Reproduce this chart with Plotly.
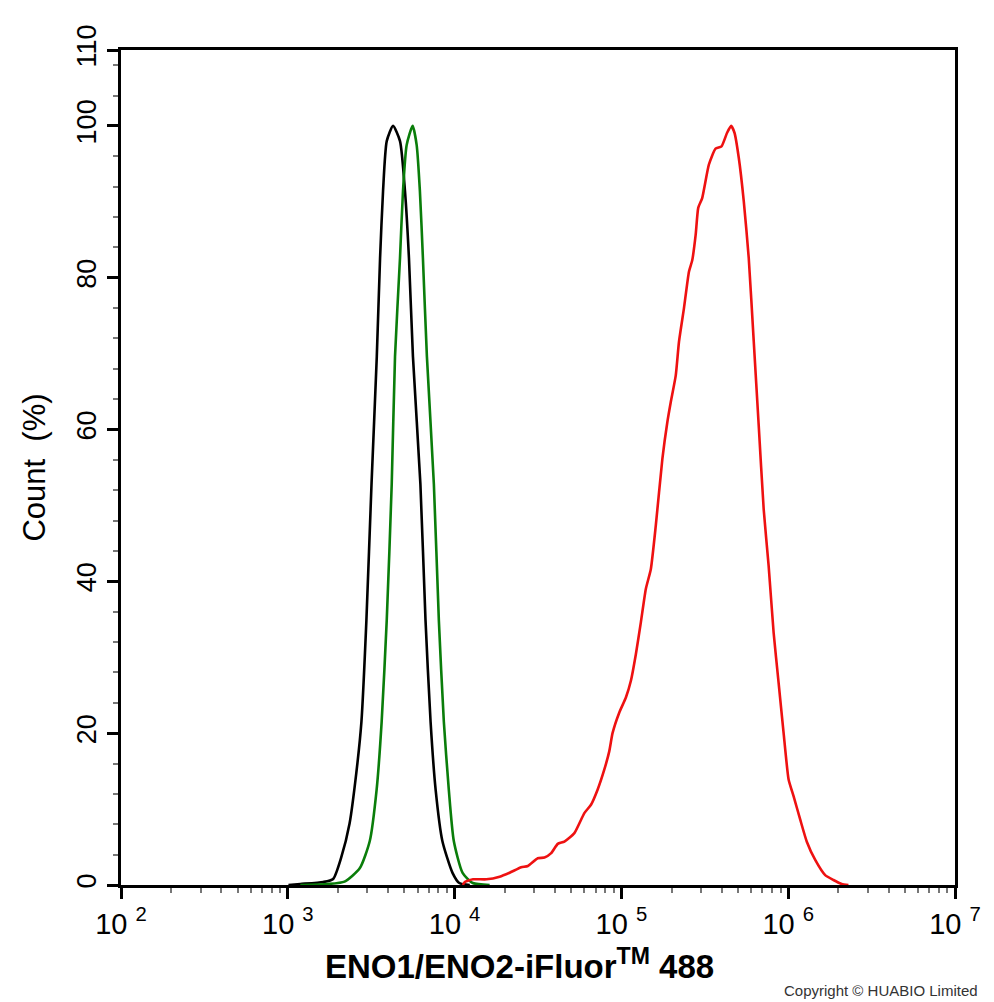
import plotly.graph_objects as go

# isotype control (black)
ctrl_x = [1009, 1189, 1632, 1871, 2089, 2346, 2576, 2763, 2960, 3176, 3416, 3574, 3724, 3919, 4276,
          4706, 5041, 5325, 5627, 6237, 6693, 7178, 7700, 8445, 9716, 10670, 12330]
ctrl_y = [0, 0.13, 0.4, 0.8, 3.6, 8.1, 14.8, 21.5, 34.9, 52.8, 69.6, 82.6, 91.4, 98.0, 100,
          98.0, 91.4, 82.6, 69.6, 52.8, 34.9, 21.5, 12.5, 5.8, 1.6, 0.26, 0]

# unstained / blank (green)
blank_x = [1189, 1734, 2188, 2699, 3101, 3406, 3653, 3919, 4198, 4393, 4706, 4904, 5160, 5604,
           5921, 6194, 6457, 6823, 7511, 8045, 8620, 9236, 9890, 11166, 12845, 16220]
blank_y = [0, 0.13, 0.45, 2.2, 5.8, 12.5, 21.5, 34.9, 52.8, 69.6, 82.6, 91.4, 97.5, 100,
           97.5, 91.4, 82.6, 69.6, 52.8, 34.9, 21.5, 12.5, 5.8, 1.6, 0.26, 0]

# ENO1/ENO2 stained (red)
stain_x = [11200, 11510, 12895, 15510, 18620, 21370, 25100, 27480, 31540, 34580, 37920, 41530, 45530,
           52240, 59950, 65730, 71980, 78940, 84560, 88490, 97030, 106400, 114000, 122100, 130800,
           140100, 150100, 160700, 176000, 188600, 197600, 211700, 221500, 237200, 254100, 265900,
           278600, 288800, 305100, 334500, 366800, 398500, 430300, 454700, 476400, 505400, 541500,
           580000, 621500, 665800, 712900, 763600, 818100, 876400, 938700, 1005500, 1077000, 1181000,
           1293000, 1452000, 1666000, 1867000, 2093000, 2296000]
stain_y = [0, 0.4, 0.75, 0.75, 1.1, 1.62, 2.34, 2.51, 3.53, 3.61, 4.19, 5.42, 5.72,
           6.83, 9.47, 10.57, 12.55, 15.19, 17.6, 20.0, 22.7, 24.7, 26.9, 30.4, 34.6,
           39.0, 41.6, 47.3, 56.1, 61.0, 63.6, 67.1, 71.6, 76.0, 80.8, 82.3,
           85.6, 89.2, 90.5, 94.9, 97.0, 97.3, 99.1, 100, 99.1, 95.8, 90.1,
           82.6, 71.6, 60.5, 49.5, 42.0, 33.2, 26.6, 20.0, 13.9, 11.7, 8.6,
           5.7, 3.3, 1.3, 0.66, 0.13, 0]

x_tickvals = [1e2, 1e3, 1e4, 1e5, 1e6, 1e7]
x_ticktext = ["10 <sup>%d</sup>" % p for p in range(2, 8)]
y_tickvals = [0, 20, 40, 60, 80, 100, 110]

fig = go.Figure()
fig.add_trace(go.Scatter(x=ctrl_x, y=ctrl_y, mode="lines",
                         line=dict(color="black", width=2.6, shape="spline", smoothing=0.6)))
fig.add_trace(go.Scatter(x=blank_x, y=blank_y, mode="lines",
                         line=dict(color="#0a7d0a", width=2.6, shape="spline", smoothing=0.6)))
fig.add_trace(go.Scatter(x=stain_x, y=stain_y, mode="lines",
                         line=dict(color="#ee1111", width=2.6, shape="spline", smoothing=0.5)))

fig.update_layout(
    width=985, height=1000,
    margin=dict(l=113, r=30, t=42, b=123),
    paper_bgcolor="white", plot_bgcolor="white",
    showlegend=False,
    font=dict(family="Liberation Sans, Arial", color="black", size=27),
)
fig.update_xaxes(
    type="log", range=[2, 7],
    tickmode="array", tickvals=x_tickvals, ticktext=x_ticktext,
    ticks="outside", ticklen=11, tickwidth=2.5, tickcolor="black",
    showline=True, linewidth=2.5, linecolor="black", mirror=True,
    showgrid=False, zeroline=False,
    minor=dict(ticks="outside", ticklen=5, tickwidth=1.5, tickcolor="#777", dtick="D1", showgrid=False),
    tickfont=dict(size=29),
)
fig.update_yaxes(
    range=[0, 110],
    tickmode="array", tickvals=y_tickvals, tickangle=-90,
    ticks="outside", ticklen=11, tickwidth=2.5, tickcolor="black",
    showline=True, linewidth=2.5, linecolor="black", mirror=True,
    showgrid=False, zeroline=False,
    minor=dict(ticks="outside", ticklen=5, tickwidth=1.5, tickcolor="#777", dtick=4, showgrid=False),
    tickfont=dict(size=27),
    title=dict(text="Count  (%)", font=dict(size=31), standoff=18),
)
fig.add_annotation(text="<b>ENO1/ENO2-iFluor<sup>TM</sup> 488</b>", xref="paper", yref="paper",
                   x=0.478, y=-0.095, xanchor="center", yanchor="middle", showarrow=False,
                   font=dict(size=33, color="black"))
fig.add_annotation(text="Copyright © HUABIO Limited", xref="paper", yref="paper",
                   x=1.030, y=-0.126, xanchor="right", yanchor="middle", showarrow=False,
                   font=dict(size=15, color="#333"))

fig.write_html("out.html")
